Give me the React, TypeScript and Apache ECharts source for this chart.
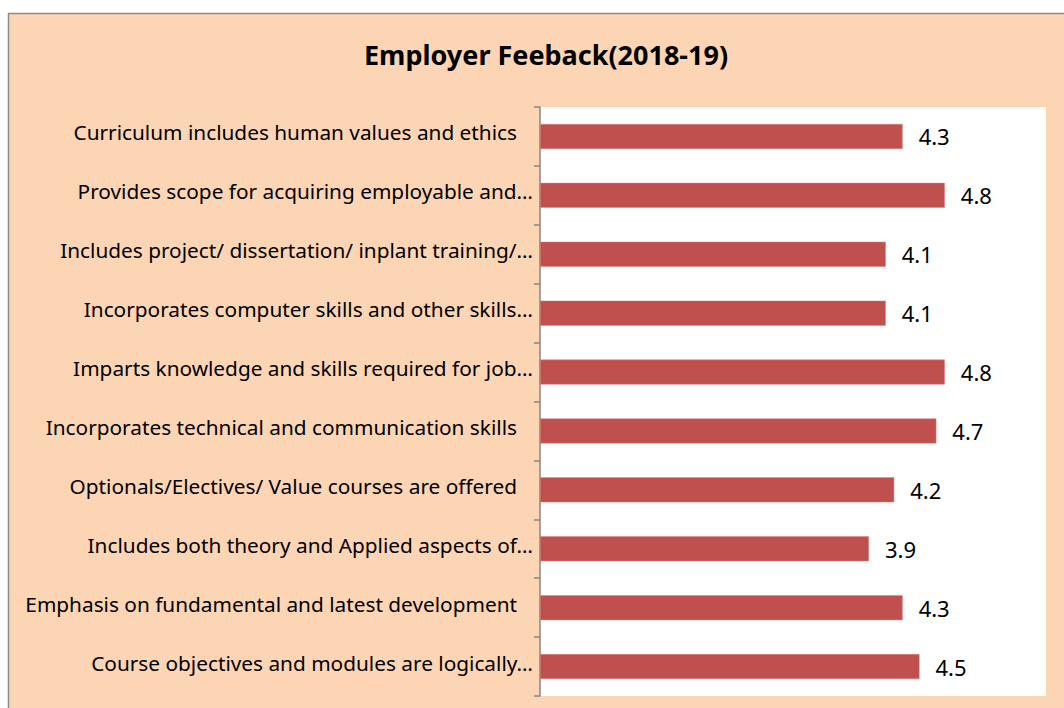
import React, { useEffect, useRef } from "react";
import * as echarts from "echarts";

const categories: string[] = [
  "Curriculum includes human values and ethics ",
  "Provides scope for acquiring employable and…",
  "Includes project/ dissertation/ inplant training/…",
  "Incorporates computer skills and other skills…",
  "Imparts knowledge and skills required for job…",
  "Incorporates technical and communication skills ",
  "Optionals/Electives/ Value courses are offered ",
  "Includes both theory and Applied aspects of…",
  "Emphasis on fundamental and latest development ",
  "Course objectives and modules are logically…",
];

const scores: number[] = [4.3, 4.8, 4.1, 4.1, 4.8, 4.7, 4.2, 3.9, 4.3, 4.5];

const titleText = "Employer Feeback(2018-19)";

const FONT = "'Noto Sans', sans-serif";
const LABEL_SIZE = 20.8;

export default function App() {
  const ref = useRef<HTMLDivElement>(null);
  useEffect(() => {
    if (!ref.current) return;
    const chart = echarts.init(ref.current, undefined, { renderer: "svg" });
    chart.setOption({
      animation: false,
      backgroundColor: "#ffffff",
      graphic: [
        {
          type: "rect",
          z: -10,
          silent: true,
          shape: { x: 8.5, y: 13.5, width: 1200, height: 800 },
          style: { fill: "#FCD5B5", stroke: "#8c8c8c", lineWidth: 1.5 },
        },
      ],
      title: {
        text: titleText,
        left: 541,
        top: 36,
        textAlign: "center",
        textStyle: { fontFamily: FONT, fontSize: 27, fontWeight: "bold", color: "#000" },
      },
      grid: {
        left: 540,
        right: 18,
        top: 107,
        bottom: 12,
        show: true,
        backgroundColor: "#ffffff",
        borderWidth: 0,
      },
      xAxis: {
        type: "value",
        min: 0,
        max: 6,
        show: false,
        splitLine: { show: false },
      },
      yAxis: {
        type: "category",
        data: categories,
        inverse: true,
        axisLine: { show: true, lineStyle: { color: "#868686", width: 1.5 } },
        axisTick: { show: true, length: 6, lineStyle: { color: "#868686", width: 1.5 } },
        axisLabel: {
          margin: 7,
          fontFamily: FONT,
          fontSize: LABEL_SIZE,
          color: "#000",
          formatter: (v: string) => (v.endsWith(" ") ? "{s|" + v.trim() + "}" : "{a|" + v + "}"),
          rich: {
            s: { fontFamily: FONT, fontSize: LABEL_SIZE, color: "#000", padding: [0, 16, 8, 0] },
            a: { fontFamily: FONT, fontSize: LABEL_SIZE, color: "#000", padding: [0, 0, 8, 0] },
          },
        },
      },
      series: [
        {
          type: "bar",
          data: scores,
          barWidth: 25,
          itemStyle: { color: "#C0504D", borderColor: "#d98785", borderWidth: 0.5 },
          label: {
            show: true,
            position: "right",
            distance: 16,
            fontFamily: FONT,
            fontSize: 22,
            color: "#000",
            padding: [0, 0, 4, 0],
          },
        },
      ],
    });
    return () => chart.dispose();
  }, []);
  return (
    <div
      ref={ref}
      style={{ position: "fixed", left: 0, top: 0, width: 1064, height: 708 }}
    />
  );
}
